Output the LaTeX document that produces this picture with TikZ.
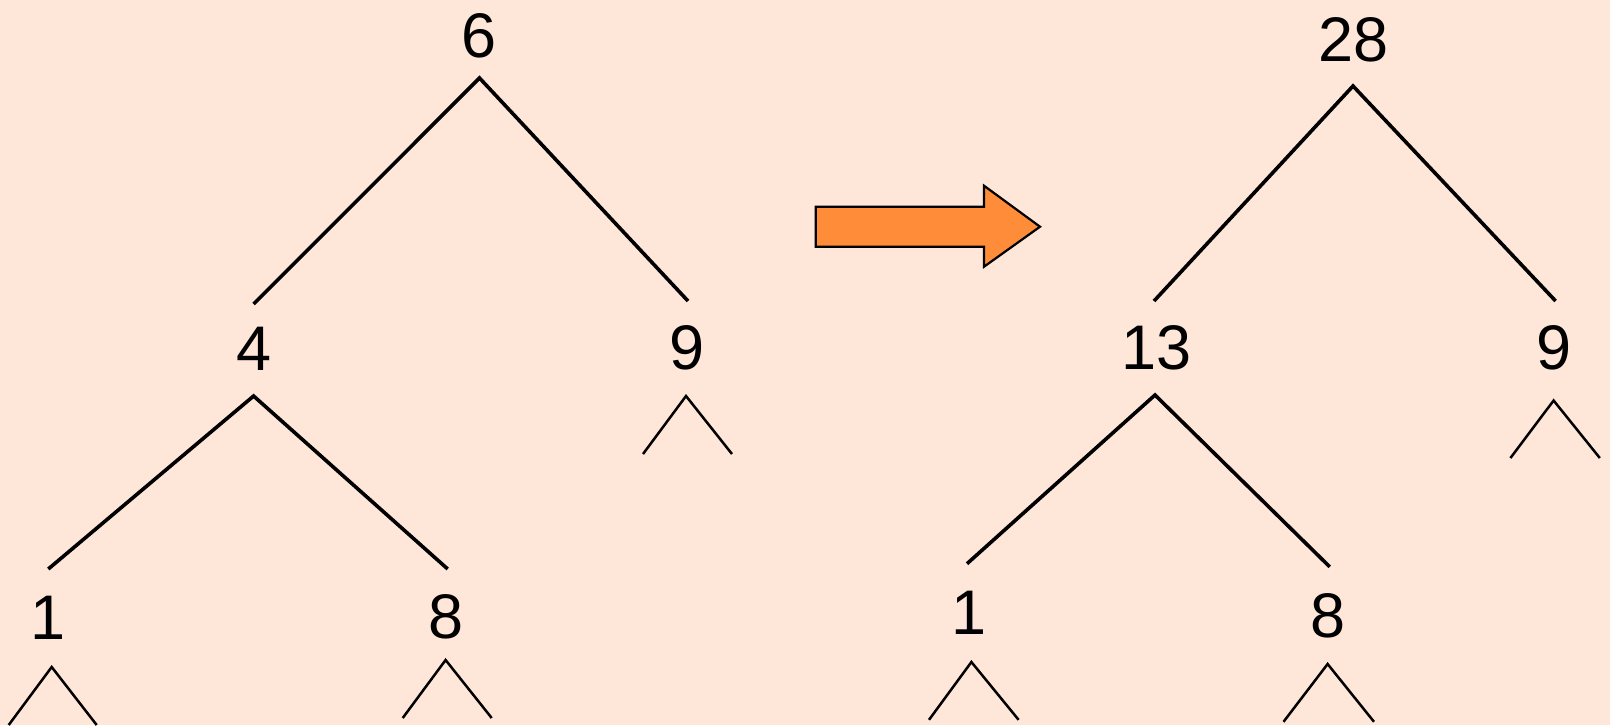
\documentclass[tikz,border=0pt]{standalone}
\usepackage{fontspec}
\setmainfont{Liberation Sans}
\definecolor{bgpeach}{RGB}{254,230,216}
\definecolor{arroworange}{RGB}{255,140,56}
\begin{document}
\begin{tikzpicture}[x=0.5pt,y=-0.5pt,
  num/.style={font=\fontsize{31.5}{36}\selectfont, inner sep=0pt},
  edge/.style={line width=1.8pt, line join=miter},
  stub/.style={line width=1.25pt, line join=miter},
  bigarrow/.style={fill=arroworange, draw=black, line width=1.1pt, line join=miter}]
\fill[bgpeach] (0,0) rectangle (1610,725);
\useasboundingbox (0,0) rectangle (1610,725);
\clip (0,0) rectangle (1610,725);

% ---- left tree ----
\node[num] (a6) at (479.5,36) {6};
\node[num] (a4) at (253.6,349) {4};
\node[num] (a9) at (687,348) {9};
\node[num] (a1) at (48,618) {1};
\node[num] (a8) at (445.6,617) {8};

\coordinate (a6top) at (479.5,78);
\coordinate (a6l) at (253.6,304);
\coordinate (a6r) at (688,301);
\draw[edge] (a6l) -- (a6top) -- (a6r);

\coordinate (a4top) at (253.6,396);
\coordinate (a4l) at (48.3,569);
\coordinate (a4r) at (447.7,569);
\draw[edge] (a4l) -- (a4top) -- (a4r);

\coordinate (a9top) at (686,396);
\coordinate (a9l) at (643,454);
\coordinate (a9r) at (732,454);
\draw[stub] (a9l) -- (a9top) -- (a9r);

\coordinate (a1top) at (51.7,667);
\coordinate (a1l) at (8.7,725);
\coordinate (a1r) at (96.7,725);
\draw[stub] (a1l) -- (a1top) -- (a1r);

\coordinate (a8top) at (445.6,660);
\coordinate (a8l) at (402.7,718);
\coordinate (a8r) at (491.7,718);
\draw[stub] (a8l) -- (a8top) -- (a8r);

% ---- arrow ----
\draw[bigarrow] (815.7,206.7) -- (984,206.7) -- (984,185.7) -- (1040,226.7)
  -- (984,266.7) -- (984,246.7) -- (815.7,246.7) -- cycle;

% ---- right tree ----
\node[num] (b28) at (1353.5,40) {28};
\node[num] (b13) at (1156.7,348) {13};
\node[num] (b9) at (1553.6,348) {9};
\node[num] (b1) at (969,613) {1};
\node[num] (b8) at (1327.6,616) {8};

\coordinate (b28top) at (1353,86);
\coordinate (b28l) at (1154,301);
\coordinate (b28r) at (1555.6,301);
\draw[edge] (b28l) -- (b28top) -- (b28r);

\coordinate (b13top) at (1155,395);
\coordinate (b13l) at (967,563.7);
\coordinate (b13r) at (1329.7,566.8);
\draw[edge] (b13l) -- (b13top) -- (b13r);

\coordinate (b9top) at (1553.6,400.5);
\coordinate (b9l) at (1510.4,458);
\coordinate (b9r) at (1599.8,458);
\draw[stub] (b9l) -- (b9top) -- (b9r);

\coordinate (b1top) at (971.4,662);
\coordinate (b1l) at (929,719.8);
\coordinate (b1r) at (1018.6,719.8);
\draw[stub] (b1l) -- (b1top) -- (b1r);

\coordinate (b8top) at (1327.6,664);
\coordinate (b8l) at (1283.5,721.8);
\coordinate (b8r) at (1374,721.8);
\draw[stub] (b8l) -- (b8top) -- (b8r);
\end{tikzpicture}
\end{document}
